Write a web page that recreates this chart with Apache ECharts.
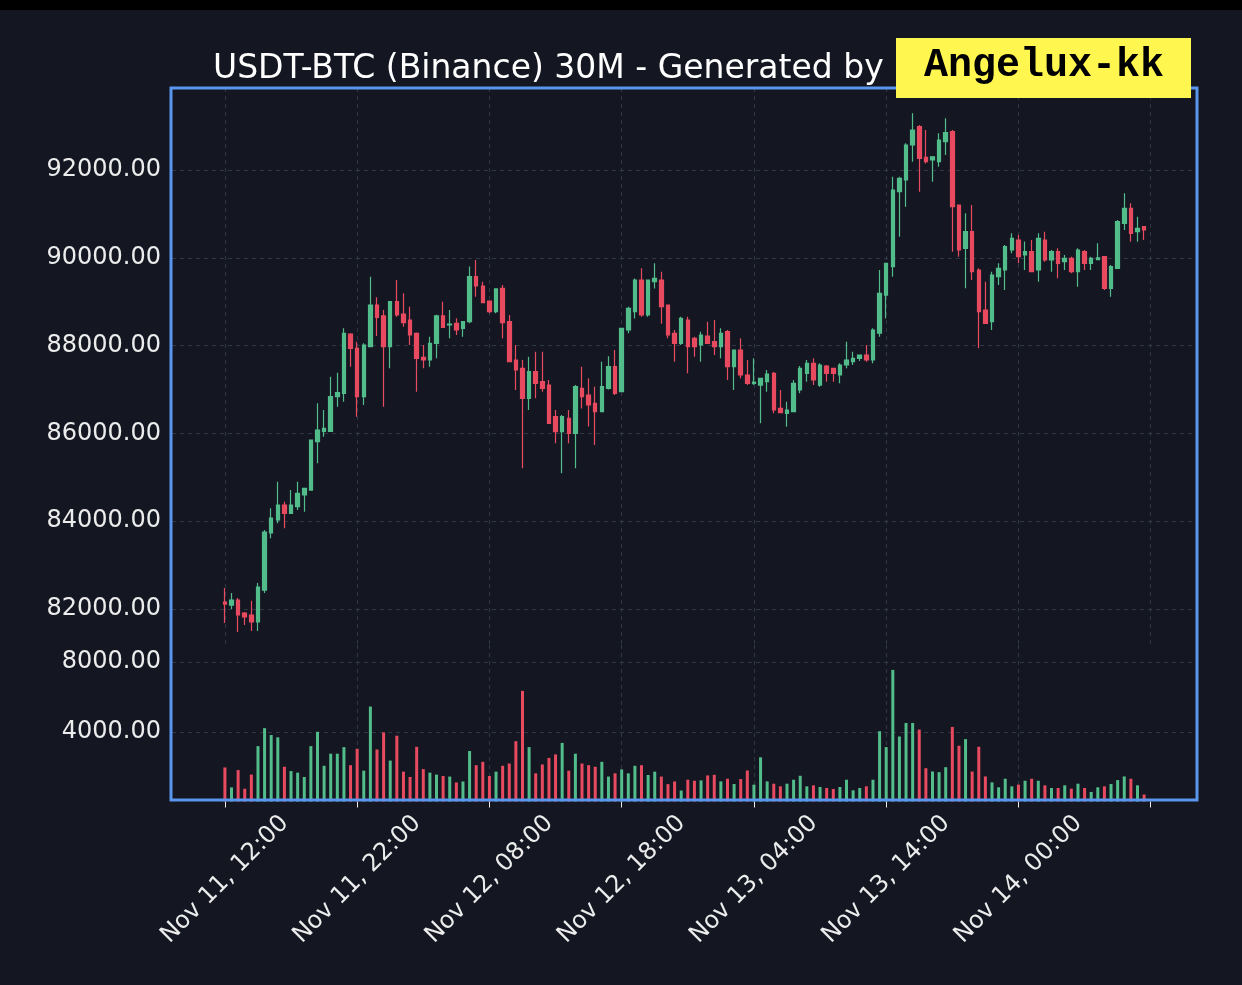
<!DOCTYPE html>
<html>
<head>
<meta charset="utf-8">
<script src="https://cdn.jsdelivr.net/npm/echarts@6/dist/echarts.min.js"></script>
<style>
  html, body { margin: 0; padding: 0; background: #141722; }
  #chart { width: 1242px; height: 985px; }
</style>
</head>
<body>
<div id="chart"></div>
<script>
// ---- DATA (30-minute candles, index 0 = Nov 11, 12:00) ----
const tickLabels = ['Nov 11, 12:00', 'Nov 11, 22:00', 'Nov 12, 08:00', 'Nov 12, 18:00',
                    'Nov 13, 04:00', 'Nov 13, 14:00', 'Nov 14, 00:00', ''];
const candlesPerTick = 20;

const openPrices = [
  82159, 82090, 82205, 81909, 81863, 81704, 82432, 83731, 84027, 84369,
  84180, 84330, 84597, 84710, 85811, 86043, 86043, 86836, 86914, 88264,
  87938, 86836, 87975, 88925, 88675, 87975, 89000, 88720, 88583, 88280,
  87733, 87672, 88052, 88675, 88470, 88508, 88393, 88545, 89570, 89358,
  89016, 88773, 89305, 88545, 87672, 87482, 86799, 87406, 87178, 87102,
  86380, 86040, 86345, 86000, 87027, 86875, 86685, 86495, 87027, 87520,
  86950, 88355, 88773, 89494, 88697, 89455, 89494, 88925, 88280, 88052,
  88583, 88166, 88014, 88219, 88089, 87975, 88317, 87520, 87900, 87330,
  87140, 87102, 87178, 87368, 86572, 86457, 86495, 86990, 87368, 87596,
  87102, 87535, 87482, 87330, 87558, 87634, 87710, 87786, 87672, 88286,
  89150, 89798, 91506, 91772, 92570, 92987, 92290, 92228, 92190, 92645,
  92873, 91203, 90216, 90595, 89722, 88811, 88545, 89570, 89722, 90178,
  90406, 90064, 90140, 89722, 90406, 89950, 90140, 89912, 89988, 89684,
  90140, 89874, 89960, 90026, 89304, 89760, 90785, 91127, 90595, 90710
];
const closePrices = [
  82113, 82205, 81863, 81818, 81704, 82500, 83754, 84072, 84369, 84180,
  84369, 84635, 84749, 85850, 86077, 86116, 86836, 86927, 88280, 87938,
  86836, 88014, 88925, 88640, 87975, 89000, 88697, 88522, 88241, 87710,
  87672, 88052, 88675, 88417, 88490, 88355, 88545, 89570, 89358, 88978,
  88773, 89290, 88522, 87634, 87444, 86799, 87406, 87140, 87027, 86230,
  86040, 86380, 86000, 87064, 86836, 86647, 86495, 87064, 87520, 86914,
  88394, 88850, 89494, 88697, 89494, 89530, 88886, 88241, 88052, 88620,
  87975, 87975, 88241, 88052, 87975, 88280, 87520, 87900, 87330, 87140,
  87170, 87255, 87353, 86533, 86475, 86533, 87140, 87482, 87596, 87216,
  87558, 87368, 87368, 87558, 87672, 87710, 87786, 87672, 88355, 89190,
  89874, 91544, 91810, 92570, 92911, 92266, 92190, 92300, 92683, 92850,
  91164, 90178, 90595, 89684, 88773, 88507, 89608, 89760, 90253, 90444,
  90026, 90140, 89684, 90444, 89950, 90140, 89874, 89988, 89684, 90178,
  89874, 89988, 90000, 89304, 89798, 90823, 91127, 90558, 90670, 90633
];
const lowPrices = [
  81681, 82000, 81476, 81635, 81500, 81500, 82364, 83610, 83952, 83838,
  84180, 84255, 84216, 84710, 85318, 85925, 86043, 86608, 86722, 87520,
  86380, 86647, 87975, 88220, 86608, 87482, 88660, 88431, 88014, 86950,
  87483, 87520, 87710, 88417, 88166, 88241, 88200, 88508, 89114, 88965,
  88735, 88735, 88166, 87634, 86989, 85205, 86533, 86799, 86950, 86230,
  85773, 85090, 85773, 85205, 86570, 86155, 85735, 86495, 87000, 86875,
  86950, 88280, 88620, 88660, 88660, 89300, 88500, 88166, 87634, 88014,
  87368, 87747, 87634, 88052, 87786, 87710, 87216, 86990, 87255, 87102,
  87102, 86230, 86950, 86457, 86457, 86150, 86495, 86914, 87178, 87102,
  87064, 87178, 87178, 87140, 87482, 87558, 87650, 87634, 87600, 88200,
  88620, 89570, 90481, 91164, 92190, 91506, 92150, 91734, 92076, 92342,
  90140, 90026, 89304, 89494, 87938, 88507, 88355, 89380, 89266, 90102,
  89874, 89722, 89684, 89456, 89912, 89684, 89532, 89722, 89646, 89342,
  89722, 89722, 89950, 89266, 89114, 89760, 90633, 90367, 90367, 90406
];
const highPrices = [
  82478, 82364, 82250, 81930, 82190, 82592, 83799, 84293, 84900, 84444,
  84710, 84900, 84760, 85850, 86686, 86533, 87291, 87382, 88394, 88280,
  88089, 88052, 89570, 89100, 88811, 89000, 89494, 89191, 88886, 88300,
  88014, 88203, 88700, 89000, 88811, 88622, 88560, 89800, 89950, 89455,
  89016, 89290, 89380, 88697, 88014, 87672, 87747, 87861, 87861, 87216,
  86533, 86420, 86533, 87100, 87520, 87255, 87064, 87634, 87760, 87900,
  88394, 88886, 89530, 89760, 89494, 89875, 89684, 88925, 88355, 88660,
  88660, 88200, 88317, 88545, 88583, 88394, 88355, 87900, 88166, 87672,
  87710, 87255, 87444, 87400, 86990, 86723, 87216, 87535, 87672, 87710,
  87600, 87558, 87482, 87600, 88089, 87861, 87800, 88014, 88394, 89722,
  89874, 91848, 91848, 92608, 93292, 93025, 92911, 92304, 92835, 93178,
  92911, 91203, 91013, 91203, 89760, 89456, 89684, 89874, 90291, 90558,
  90520, 90370, 90406, 90558, 90595, 90178, 90216, 90064, 90026, 90216,
  90178, 90026, 90330, 90026, 89836, 90861, 91468, 91241, 90936, 90710
];
const volumes = [
  1953, 810, 1802, 732, 1543, 3175, 4206, 3812, 3681, 1993,
  1745, 1655, 1407, 3175, 3997, 2049, 2742, 2742, 3119, 2083,
  3023, 1768, 5444, 2984, 3963, 2348, 3772, 1712, 1407, 3136,
  1858, 1655, 1543, 1464, 1430, 1092, 1149, 2894, 2083, 2275,
  1464, 1712, 2049, 2179, 3457, 6345, 3119, 1616, 2122, 2500,
  2702, 3361, 1768, 2742, 2179, 2083, 1993, 2275, 1430, 1616,
  1841, 1616, 2049, 2083, 1520, 1712, 1430, 997, 1149, 630,
  1248, 1191, 1210, 1494, 1532, 1153, 1305, 1002, 1286, 1778,
  965, 2535, 1153, 1021, 870, 1021, 1248, 1475, 870, 927,
  832, 775, 718, 832, 1248, 643, 775, 870, 1248, 4028,
  3120, 7547, 3728, 4504, 4504, 4125, 1910, 1721, 1683, 1967,
  4276, 3197, 3577, 1721, 3140, 1437, 1097, 813, 1305, 870,
  965, 1191, 1305, 1191, 927, 775, 775, 927, 737, 1021,
  775, 548, 813, 870, 1002, 1229, 1437, 1305, 927, 400
];

// ---- STYLE ----
const UP = '#52bd8b';
const DOWN = '#e84a5f';
const FRAME = '#5b96ee';
const GRIDLINE = '#323746';
const TEXT = '#ececec';
const FONT = 'DejaVu Sans';

const candleData = openPrices.map((o, i) => [i, o, closePrices[i], lowPrices[i], highPrices[i]]);
const volumeData = volumes.map((v, i) => ({
  value: [i, v],
  itemStyle: { color: closePrices[i] >= openPrices[i] ? UP : DOWN }
}));
const xTicks = tickLabels.map((_, k) => k * candlesPerTick);

const isMult = (v, m) => Math.abs(v / m - Math.round(v / m)) < 1e-6;

const splitLineStyle = { show: true, showMinLine: false, showMaxLine: false,
  lineStyle: { color: GRIDLINE, type: [4, 4], width: 1 } };

const xCommon = {
  type: 'value', min: -8, max: 147, splitNumber: 8,
  axisLine: { show: false },
  splitLine: splitLineStyle
};

const chart = echarts.init(document.getElementById('chart'), null, { renderer: 'canvas' });
chart.setOption({
  backgroundColor: '#141722',
  animation: false,
  grid: [
    { left: 172, right: 45, top: 88, height: 557 },
    { left: 172, right: 45, top: 645, height: 156.5 }
  ],
  xAxis: [
    Object.assign({}, xCommon, {
      gridIndex: 0,
      axisTick: { show: false },
      axisLabel: { show: false }
    }),
    Object.assign({}, xCommon, {
      gridIndex: 1,
      axisTick: { show: true, length: 6, customValues: xTicks,
        lineStyle: { color: TEXT, width: 1 } },
      axisLabel: {
        show: true, rotate: 45, align: 'center', verticalAlign: 'middle',
        margin: 78, color: TEXT, fontSize: 24, fontFamily: FONT,
        formatter: v => (isMult(v, candlesPerTick) && v >= 0 && v / candlesPerTick < tickLabels.length)
          ? tickLabels[Math.round(v / candlesPerTick)] : ''
      }
    })
  ],
  yAxis: [
    {
      gridIndex: 0, type: 'value', min: 81180, max: 93868, splitNumber: 6, scale: true,
      axisLine: { show: false }, axisTick: { show: false },
      axisLabel: { color: TEXT, fontSize: 24, fontFamily: FONT, margin: 11,
        formatter: v => isMult(v, 2000) ? v.toFixed(2) : '' },
      splitLine: splitLineStyle
    },
    {
      gridIndex: 1, type: 'value', min: 0, max: 8975, interval: 4000,
      axisLine: { show: false }, axisTick: { show: false },
      axisLabel: { color: TEXT, fontSize: 24, fontFamily: FONT, margin: 11,
        formatter: v => (v > 0 && isMult(v, 4000)) ? v.toFixed(2) : '' },
      splitLine: splitLineStyle
    }
  ],
  series: [
    {
      type: 'candlestick',
      xAxisIndex: 0, yAxisIndex: 0,
      data: candleData,
      encode: { x: 0, y: [1, 2, 3, 4] },
      barWidth: 4,
      itemStyle: {
        color: UP, color0: DOWN, borderColor: UP, borderColor0: DOWN, borderWidth: 1.2
      }
    },
    {
      type: 'bar',
      xAxisIndex: 1, yAxisIndex: 1,
      data: volumeData,
      barWidth: 3
    }
  ],
  graphic: [
    { type: 'rect', shape: { x: 0, y: 0, width: 1242, height: 10 }, style: { fill: '#000000' }, z: 100 },
    { type: 'rect', shape: { x: 171, y: 88, width: 1026, height: 712 },
      style: { fill: 'none', stroke: FRAME, lineWidth: 3 }, z: 100 },
    { type: 'text', x: 213, y: 69, z: 100,
      style: { text: 'USDT-BTC (Binance) 30M - Generated by', fill: '#ffffff',
        font: 'normal 33px "DejaVu Sans"', align: 'left', verticalAlign: 'middle' } },
    { type: 'rect', shape: { x: 896, y: 38, width: 295, height: 60 },
      style: { fill: '#fff650' }, z: 101 },
    { type: 'text', x: 1044, y: 66, z: 102,
      style: { text: 'Angelux-kk', fill: '#000000',
        font: 'bold 40px "Liberation Mono"', align: 'center', verticalAlign: 'middle' } }
  ]
});
</script>
</body>
</html>
